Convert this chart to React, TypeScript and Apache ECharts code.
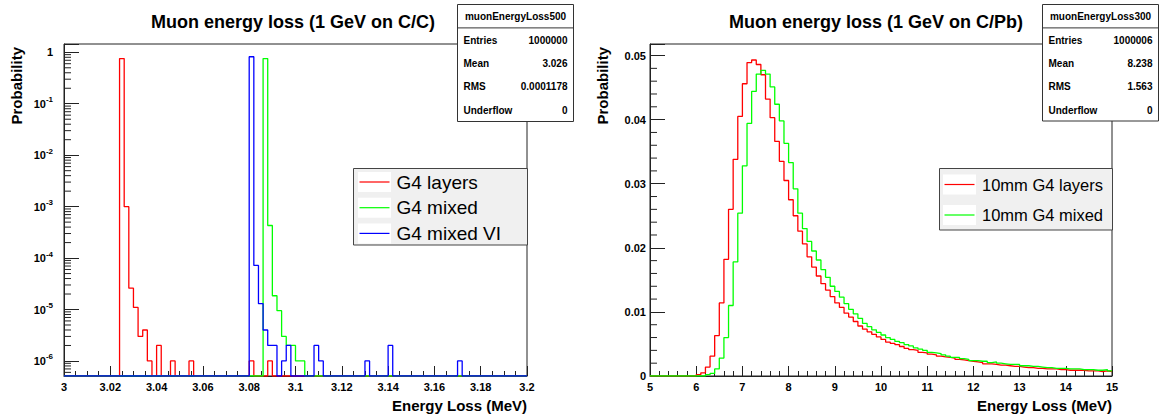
import React, { useEffect, useRef } from "react";
import * as echarts from "echarts";

const FONT = "'Liberation Sans', Arial, Helvetica, sans-serif";
const INK = "#000000";
const AXIS = "#222222";
const RED = "#ff0000";
const GREEN = "#00ff00";
const BLUE = "#0000ff";

// ---------- Panel 1: C/C (log scale) ----------
const ccTitle = "Muon energy loss (1 GeV on C/C)";
const ccXMin = 3.0;
const ccXMax = 3.2;
const ccXInterval = 0.02;
const ccBinWidth = 0.002;
const ccYMin = 5.1e-7;
const ccYMax = 1.45;

const ccLayers = [
  0, 0, 0, 0, 0, 0, 0, 0, 0, 0,
  0, 0, 0.755, 1.0e-3, 2.6e-5, 1.1e-5, 3e-6, 4e-6, 1e-6, 0,
  2e-6, 0, 0, 1e-6, 0, 0, 0, 1e-6, 0, 0,
  0, 0, 0, 0, 0, 0, 0, 0, 0, 0,
  1e-6, 0, 0, 0, 1e-6, 0, 0, 0, 0, 0,
  0, 0, 0, 0, 0, 0, 0, 0, 0, 0,
  0, 0, 0, 0, 0, 0, 0, 0, 0, 0,
  0, 0, 0, 0, 0, 0, 0, 0, 0, 0,
  0, 0, 0, 0, 0, 0, 0, 0, 0, 0,
  0, 0, 0, 0, 0, 0, 0, 0, 0, 0,
];
const ccMixed = [
  0, 0, 0, 0, 0, 0, 0, 0, 0, 0,
  0, 0, 0, 0, 0, 0, 0, 0, 0, 0,
  0, 0, 0, 0, 0, 0, 0, 0, 0, 0,
  0, 0, 0, 0, 0, 0, 0, 0, 0, 0,
  0, 0, 0, 0.755, 4.3e-4, 1.85e-5, 9.5e-6, 3e-6, 2e-6, 2e-6,
  1e-6, 1e-6, 0, 0, 0, 0, 0, 0, 0, 0,
  0, 0, 0, 0, 0, 0, 0, 0, 0, 0,
  0, 0, 0, 0, 0, 0, 0, 0, 0, 0,
  0, 0, 0, 0, 0, 0, 0, 0, 0, 0,
  0, 0, 0, 0, 0, 0, 0, 0, 0, 0,
];
const ccMixedVI = [
  0, 0, 0, 0, 0, 0, 0, 0, 0, 0,
  0, 0, 0, 0, 0, 0, 0, 0, 0, 0,
  0, 0, 0, 0, 0, 0, 0, 0, 0, 0,
  0, 0, 0, 0, 0, 0, 0, 0, 0, 0,
  0.82, 7.2e-5, 1.3e-5, 4e-6, 2e-6, 2e-6, 0, 1e-6, 2e-6, 0,
  0, 0, 0, 0, 2e-6, 1e-6, 0, 0, 0, 0,
  0, 0, 0, 0, 0, 1e-6, 0, 0, 0, 0,
  2e-6, 0, 0, 0, 0, 0, 0, 0, 0, 0,
  0, 0, 0, 0, 0, 1e-6, 0, 0, 0, 0,
  0, 0, 0, 0, 0, 0, 0, 0, 0, 0,
];
const ccLegendNames = ["G4 layers", "G4 mixed", "G4 mixed VI"];
const ccStatsName = "muonEnergyLoss500";
const ccStatsLabels = ["Entries", "Mean", "RMS", "Underflow"];
const ccStatsValues = ["1000000", "3.026", "0.0001178", "0"];

// ---------- Panel 2: C/Pb (linear scale) ----------
const pbTitle = "Muon energy loss (1 GeV on C/Pb)";
const pbXMin = 5;
const pbXMax = 15;
const pbXInterval = 1;
const pbBinWidth = 0.1;
const pbYMin = 0;
const pbYMax = 0.0518;
const pbYInterval = 0.01;

const pbLayers = [
  0, 0, 0, 0, 0, 0, 0, 0, 0, 0,
  0.0002, 0.0005, 0.0014, 0.0031, 0.0063, 0.0114, 0.0182, 0.026, 0.0338, 0.0405,
  0.0456, 0.0489, 0.0493, 0.0486, 0.047, 0.0432, 0.0403, 0.0366, 0.0335, 0.0305,
  0.0275, 0.025, 0.0226, 0.0206, 0.0186, 0.017, 0.0156, 0.0144, 0.0134, 0.0124,
  0.0114, 0.0107, 0.0098, 0.0092, 0.0085, 0.0078, 0.0073, 0.0069, 0.0065, 0.0061,
  0.0057, 0.0053, 0.0051, 0.0049, 0.0046, 0.0043, 0.0041, 0.004, 0.0037, 0.0036,
  0.0034, 0.0033, 0.0031, 0.003, 0.0029, 0.0028, 0.0026, 0.0025, 0.0024, 0.0023,
  0.0022, 0.0021, 0.0019, 0.0019, 0.0018, 0.0017, 0.0017, 0.0016, 0.0015, 0.0015,
  0.0014, 0.0013, 0.0013, 0.0012, 0.0012, 0.0011, 0.0011, 0.0011, 0.001, 0.001,
  0.0009, 0.0009, 0.0009, 0.0009, 0.0008, 0.0008, 0.0008, 0.0007, 0.0008, 0.0007,
];
const pbMixed = [
  0, 0, 0, 0, 0, 0, 0, 0, 0, 0,
  0, 0, 0.0002, 0.0004, 0.0011, 0.0028, 0.006, 0.011, 0.0178, 0.0254,
  0.0328, 0.0394, 0.0444, 0.0471, 0.0477, 0.0471, 0.0451, 0.0424, 0.0398, 0.0363,
  0.0333, 0.0292, 0.0254, 0.023, 0.021, 0.0195, 0.0181, 0.0166, 0.0154, 0.014,
  0.0132, 0.0123, 0.0113, 0.0104, 0.0097, 0.009, 0.0082, 0.0077, 0.0072, 0.0068,
  0.0064, 0.006, 0.0057, 0.0054, 0.0052, 0.0049, 0.0047, 0.0044, 0.0042, 0.004,
  0.0037, 0.0036, 0.0035, 0.0033, 0.0031, 0.0029, 0.0029, 0.0027, 0.0026, 0.0024,
  0.0024, 0.0023, 0.0023, 0.0021, 0.0022, 0.002, 0.0019, 0.0018, 0.0018, 0.0018,
  0.0016, 0.0016, 0.0015, 0.0015, 0.0014, 0.0013, 0.0013, 0.0012, 0.0012, 0.0012,
  0.0011, 0.0011, 0.0011, 0.001, 0.001, 0.001, 0.0009, 0.0009, 0.001, 0.0008,
];
const pbLegendNames = ["10mm G4 layers", "10mm G4 mixed"];
const pbStatsName = "muonEnergyLoss300";
const pbStatsLabels = ["Entries", "Mean", "RMS", "Underflow"];
const pbStatsValues = ["1000006", "8.238", "1.563", "0"];

const yTitle = "Probability";
const xTitle = "Energy Loss (MeV)";

// Histogram outline points (bin left edges + closing right edge)
function histPoints(vals: number[], x0: number, w: number, floor: number) {
  const pts: number[][] = vals.map((v, i) => [x0 + i * w, v > 0 ? v : floor]);
  const last = vals[vals.length - 1];
  pts.push([x0 + vals.length * w, last > 0 ? last : floor]);
  return pts;
}

function logMinorTicks(min: number, max: number) {
  const out: number[] = [];
  for (let k = -8; k <= 1; k++) {
    for (let m = 2; m <= 9; m++) {
      const v = m * Math.pow(10, k);
      if (v > min && v < max) out.push(v);
    }
  }
  return out;
}

function linMinorTicks(step: number, major: number, max: number) {
  const out: number[] = [];
  const n = Math.floor(max / step + 1e-9);
  const per = Math.round(major / step);
  for (let i = 1; i <= n; i++) if (i % per !== 0) out.push(i * step);
  return out;
}

const txt = (
  text: string,
  x: number,
  y: number,
  size: number,
  align: string,
  weight: string = "bold",
  extra: any = {}
) => ({
  type: "text",
  x,
  y,
  z: 100,
  silent: true,
  ...extra,
  style: {
    text,
    fontSize: size,
    fontWeight: weight,
    fontFamily: FONT,
    fill: INK,
    align,
    verticalAlign: "middle",
    textAlign: align,
    textVerticalAlign: "middle",
  },
});

function statsBox(x: number, y: number, w: number, h: number, name: string, labels: string[], values: string[]) {
  const els: any[] = [
    { type: "rect", z: 99, silent: true, shape: { x, y, width: w, height: h }, style: { fill: "#ffffff", stroke: "#333333", lineWidth: 1 } },
    { type: "line", z: 100, silent: true, shape: { x1: x, y1: y + 23.4, x2: x + w, y2: y + 23.4 }, style: { stroke: "#333333", lineWidth: 1 } },
    txt(name, x + w / 2, y + 12, 10, "center"),
  ];
  labels.forEach((l, i) => {
    const ry = y + 35.7 + i * 23.3;
    els.push(txt(l, x + 6, ry, 10, "left"));
    els.push(txt(values[i], x + w - 6, ry, 10, "right"));
  });
  return els;
}

function legendBox(x: number, y: number, w: number, h: number, names: string[], colors: string[], rowY0: number, rowGap: number, fontSize: number, sampleX: number, textX: number) {
  const els: any[] = [
    { type: "rect", z: 99, silent: true, shape: { x, y, width: w, height: h }, style: { fill: "#f0f0f0", stroke: "#444444", lineWidth: 1 } },
  ];
  names.forEach((n, i) => {
    const ry = rowY0 + i * rowGap;
    els.push({ type: "rect", z: 100, silent: true, shape: { x: sampleX - 1.5, y: ry - 10, width: 33, height: 20 }, style: { fill: "#ffffff", stroke: "none" } });
    els.push({ type: "line", z: 101, silent: true, shape: { x1: sampleX, y1: ry, x2: sampleX + 30, y2: ry }, style: { stroke: colors[i], lineWidth: 1.2 } });
    els.push(txt(n, textX, ry, fontSize, "left", "normal"));
  });
  return els;
}

const tickLabelStyle = { fontSize: 11, fontWeight: "bold", fontFamily: FONT, color: INK };

export default function App() {
  const ref = useRef<HTMLDivElement>(null);

  useEffect(() => {
    if (!ref.current) return;
    const chart = echarts.init(ref.current, undefined, { renderer: "svg" });

    const ccMinor = logMinorTicks(ccYMin, ccYMax);
    const pbMinor = linMinorTicks(0.002, pbYInterval, 0.05);

    const minorTickSeries = (xIdx: number, xMin: number, vals: number[], len: number) => ({
      type: "custom",
      xAxisIndex: xIdx,
      yAxisIndex: xIdx,
      silent: true,
      clip: false,
      z: 3,
      data: vals.map((v) => [xMin, v]),
      renderItem: (_p: any, api: any) => {
        const p = api.coord([api.value(0), api.value(1)]);
        return {
          type: "line",
          shape: { x1: p[0], y1: p[1], x2: p[0] + len, y2: p[1] },
          style: { stroke: AXIS, lineWidth: 1 },
        };
      },
    });

    const histSeries = (name: string, xIdx: number, pts: number[][], color: string) => ({
      name,
      type: "line",
      xAxisIndex: xIdx,
      yAxisIndex: xIdx,
      step: "end",
      data: pts,
      showSymbol: false,
      symbol: "none",
      clip: true,
      z: 2,
      lineStyle: { color, width: 1.3 },
      itemStyle: { color },
    });

    const option: any = {
      animation: false,
      backgroundColor: "#ffffff",
      grid: [
        { left: 64, top: 44, width: 463, height: 332, show: true, borderColor: AXIS, borderWidth: 1, backgroundColor: "rgba(0,0,0,0)" },
        { left: 650, top: 44, width: 462, height: 332, show: true, borderColor: AXIS, borderWidth: 1, backgroundColor: "rgba(0,0,0,0)" },
      ],
      xAxis: [
        {
          type: "value",
          gridIndex: 0,
          min: ccXMin,
          max: ccXMax,
          interval: ccXInterval,
          axisLine: { show: true, onZero: false, lineStyle: { color: AXIS } },
          axisTick: { show: true, inside: true, length: 10, lineStyle: { color: AXIS } },
          minorTick: { show: true, splitNumber: 4, length: 5, lineStyle: { color: AXIS } },
          splitLine: { show: false },
          minorSplitLine: { show: false },
          axisLabel: { ...tickLabelStyle, margin: 5 },
        },
        {
          type: "value",
          gridIndex: 1,
          min: pbXMin,
          max: pbXMax,
          interval: pbXInterval,
          axisLine: { show: true, onZero: false, lineStyle: { color: AXIS } },
          axisTick: { show: true, inside: true, length: 10, lineStyle: { color: AXIS } },
          minorTick: { show: true, splitNumber: 5, length: 5, lineStyle: { color: AXIS } },
          splitLine: { show: false },
          minorSplitLine: { show: false },
          axisLabel: { ...tickLabelStyle, margin: 5 },
        },
      ],
      yAxis: [
        {
          type: "log",
          logBase: 10,
          gridIndex: 0,
          min: ccYMin,
          max: ccYMax,
          axisLine: { show: true, lineStyle: { color: AXIS } },
          axisTick: { show: true, inside: true, length: 15, lineStyle: { color: AXIS } },
          splitLine: { show: false },
          axisLabel: {
            margin: 11,
            formatter: (v: number) => {
              const e = Math.log10(v);
              const r = Math.round(e);
              if (Math.abs(e - r) > 1e-6) return "";
              if (r === 0) return "{b|1}";
              return "{b|10}{s|" + r + "}";
            },
            rich: {
              b: { ...tickLabelStyle, lineHeight: 16 },
              s: { fontSize: 8, fontWeight: "bold", fontFamily: FONT, color: INK, lineHeight: 9, verticalAlign: "top" },
            },
          },
        },
        {
          type: "value",
          gridIndex: 1,
          min: pbYMin,
          max: pbYMax,
          interval: pbYInterval,
          axisLine: { show: true, onZero: false, lineStyle: { color: AXIS } },
          axisTick: { show: true, inside: true, length: 15, lineStyle: { color: AXIS } },
          splitLine: { show: false },
          axisLabel: {
            ...tickLabelStyle,
            margin: 4,
            formatter: (v: number) => {
              const k = v / pbYInterval;
              if (Math.abs(k - Math.round(k)) > 1e-6) return "";
              if (Math.round(k) === 0) return "0";
              return (Math.round(k) * pbYInterval).toFixed(2);
            },
          },
        },
      ],
      series: [
        histSeries(ccLegendNames[0], 0, histPoints(ccLayers, ccXMin, ccBinWidth, ccYMin), RED),
        histSeries(ccLegendNames[1], 0, histPoints(ccMixed, ccXMin, ccBinWidth, ccYMin), GREEN),
        histSeries(ccLegendNames[2], 0, histPoints(ccMixedVI, ccXMin, ccBinWidth, ccYMin), BLUE),
        histSeries(pbLegendNames[0], 1, histPoints(pbLayers, pbXMin, pbBinWidth, 0), RED),
        histSeries(pbLegendNames[1], 1, histPoints(pbMixed, pbXMin, pbBinWidth, 0), GREEN),
        minorTickSeries(0, ccXMin, ccMinor, 7),
        minorTickSeries(1, pbXMin, pbMinor, 7),
      ],
      graphic: [
        txt(ccTitle, 293, 22, 18, "center"),
        txt(pbTitle, 876, 22, 18, "center"),
        txt(yTitle, 16, 47, 15, "right", "bold", { rotation: Math.PI / 2 }),
        txt(yTitle, 602, 47, 15, "right", "bold", { rotation: Math.PI / 2 }),
        txt(xTitle, 527, 405.5, 15, "right"),
        txt(xTitle, 1112, 405.5, 15, "right"),
        ...statsBox(457.5, 4.5, 116, 117, ccStatsName, ccStatsLabels, ccStatsValues),
        ...statsBox(1042.5, 4.5, 116, 116.5, pbStatsName, pbStatsLabels, pbStatsValues),
        ...legendBox(353.5, 168.5, 174, 76.5, ccLegendNames, [RED, GREEN, BLUE], 182, 25.7, 19, 359.5, 396.5),
        ...legendBox(939.5, 168.5, 173, 61.5, pbLegendNames, [RED, GREEN], 184.5, 30.5, 16.5, 944.5, 982),
      ],
    };

    chart.setOption(option);
    return () => chart.dispose();
  }, []);

  return (
    <div
      ref={ref}
      style={{ position: "absolute", left: 0, top: 0, width: 1162, height: 418, background: "#ffffff" }}
    />
  );
}
